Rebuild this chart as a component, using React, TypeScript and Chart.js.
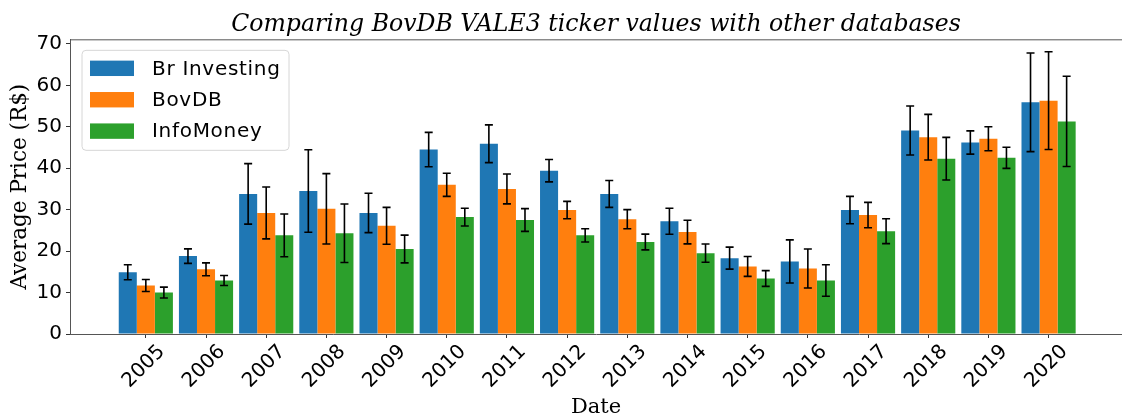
import React, { useEffect, useRef } from 'react';
import { Chart, registerables } from 'chart.js';

Chart.register(...registerables);

// ---- data ----
const years = [2005, 2006, 2007, 2008, 2009, 2010, 2011, 2012, 2013, 2014, 2015, 2016, 2017, 2018, 2019, 2020];
const seriesLabels = ['Br Investing', 'BovDB', 'InfoMoney'];
const brInvesting = [14.9, 18.8, 33.8, 34.5, 29.2, 44.5, 45.9, 39.4, 33.8, 27.2, 18.3, 17.5, 29.9, 49.1, 46.2, 55.9];
const brInvestingErr = [1.8, 1.75, 7.3, 9.95, 4.75, 4.15, 4.55, 2.7, 3.25, 3.15, 2.65, 5.2, 3.3, 5.9, 2.8, 11.9];
const bovDB = [11.7, 15.6, 29.2, 30.2, 26.1, 36.0, 35.0, 29.9, 27.7, 24.6, 16.3, 15.8, 28.7, 47.5, 47.1, 56.3];
const bovDBErr = [1.45, 1.55, 6.25, 8.5, 4.45, 2.8, 3.6, 2.1, 2.3, 2.85, 2.4, 4.7, 3.05, 5.5, 2.9, 11.8];
const infoMoney = [10.0, 12.9, 23.8, 24.3, 20.5, 28.2, 27.5, 23.8, 22.2, 19.5, 13.4, 12.9, 24.8, 42.3, 42.5, 51.3];
const infoMoneyErr = [1.3, 1.2, 5.15, 7.05, 3.35, 2.15, 2.75, 1.6, 1.9, 2.2, 1.9, 3.8, 3.0, 5.15, 2.55, 10.9];
const yTicks = [0, 10, 20, 30, 40, 50, 60, 70];

const titleText = 'Comparing BovDB VALE3 ticker values with other databases';
const yTitle = 'Average Price (R$)';
const xTitle = 'Date';

const colors = ['#1f77b4', '#ff7f0e', '#2ca02c'];

const errorBarPlugin = {
  id: 'errorBars',
  afterDatasetsDraw(chart: any) {
    const ctx = chart.ctx;
    const yScale = chart.scales.y;
    ctx.save();
    ctx.strokeStyle = '#000';
    ctx.lineWidth = 1.6;
    chart.data.datasets.forEach((ds: any, di: number) => {
      const meta = chart.getDatasetMeta(di);
      meta.data.forEach((bar: any, i: number) => {
        const v = ds.data[i].y;
        const e = ds.errors[i];
        const top = yScale.getPixelForValue(v + e);
        const bot = yScale.getPixelForValue(v - e);
        const x = bar.x;
        const cap = 4;
        ctx.beginPath();
        ctx.moveTo(x, top);
        ctx.lineTo(x, bot);
        ctx.moveTo(x - cap, top);
        ctx.lineTo(x + cap, top);
        ctx.moveTo(x - cap, bot);
        ctx.lineTo(x + cap, bot);
        ctx.stroke();
      });
    });
    ctx.restore();
  },
};

const framePlugin = {
  id: 'frameAndLegend',
  afterDraw(chart: any) {
    const ctx = chart.ctx;
    const a = chart.chartArea;
    ctx.save();
    // top spine
    ctx.strokeStyle = '#555';
    ctx.lineWidth = 1;
    ctx.beginPath();
    ctx.moveTo(a.left, a.top + 0.5);
    ctx.lineTo(a.right, a.top + 0.5);
    ctx.stroke();

    // legend
    const bx = a.left + 12;
    const by = a.top + 11;
    const bw = 207;
    const bh = 100;
    const r = 4;
    ctx.beginPath();
    ctx.moveTo(bx + r, by);
    ctx.lineTo(bx + bw - r, by);
    ctx.quadraticCurveTo(bx + bw, by, bx + bw, by + r);
    ctx.lineTo(bx + bw, by + bh - r);
    ctx.quadraticCurveTo(bx + bw, by + bh, bx + bw - r, by + bh);
    ctx.lineTo(bx + r, by + bh);
    ctx.quadraticCurveTo(bx, by + bh, bx, by + bh - r);
    ctx.lineTo(bx, by + r);
    ctx.quadraticCurveTo(bx, by, bx + r, by);
    ctx.closePath();
    ctx.fillStyle = 'rgba(255,255,255,0.8)';
    ctx.fill();
    ctx.strokeStyle = '#d6d6d6';
    ctx.stroke();

    ctx.font = '20px "DejaVu Sans"';
    (ctx as any).letterSpacing = '0.7px';
    ctx.textBaseline = 'middle';
    ctx.textAlign = 'left';
    chart.data.datasets.forEach((ds: any, i: number) => {
      const cy = by + 18 + i * 31.4;
      ctx.fillStyle = ds.backgroundColor;
      ctx.fillRect(bx + 8, cy - 7.7, 44, 15.4);
      ctx.fillStyle = '#000';
      ctx.fillText(ds.label, bx + 70, cy + 1);
    });
    (ctx as any).letterSpacing = '0px';
    ctx.restore();
  },
};

export default function App() {
  const ref = useRef<HTMLCanvasElement | null>(null);
  useEffect(() => {
    if (!ref.current) return;
    const values = [brInvesting, bovDB, infoMoney];
    const errs = [brInvestingErr, bovDBErr, infoMoneyErr];
    const chart = new Chart(ref.current, {
      type: 'bar',
      data: {
        datasets: seriesLabels.map((label, k) => ({
          label,
          data: years.map((yr, i) => ({ x: yr, y: values[k][i] })),
          errors: errs[k],
          backgroundColor: colors[k],
          borderWidth: 0,
          categoryPercentage: 0.9,
          barPercentage: 1.0,
        })) as any,
      },
      options: {
        animation: false,
        responsive: false,
        devicePixelRatio: 1,
        layout: { padding: { left: 0, right: 0, top: 0, bottom: 0 } },
        plugins: {
          legend: { display: false },
          tooltip: { enabled: false },
          title: {
            display: true,
            text: titleText,
            fullSize: false,
            color: '#000',
            font: { family: 'DejaVu Serif', style: 'italic', size: 23.6, weight: 'normal', lineHeight: 1.2 },
            padding: { top: 11, bottom: 0 },
          },
        },
        scales: {
          x: {
            type: 'linear',
            min: 2003.74,
            max: 2021.22,
            offset: false,
            afterBuildTicks: (s: any) => {
              s.ticks = years.map((v) => ({ value: v }));
            },
            afterFit: (s: any) => {
              s.height = 84;
            },
            ticks: {
              includeBounds: false,
              autoSkip: false,
              minRotation: 45,
              maxRotation: 45,
              labelOffset: 16,
              padding: 2,
              color: '#000',
              font: { family: 'DejaVu Sans', size: 20 },
              callback: (v: any) => String(v),
            },
            grid: {
              display: true,
              drawOnChartArea: false,
              drawTicks: true,
              tickLength: 4,
              tickColor: '#333',
              offset: false,
            },
            border: { display: true, color: '#555', width: 1 },
            title: {
              display: true,
              text: xTitle,
              color: '#000',
              font: { family: 'DejaVu Serif', size: 21, lineHeight: 1 },
              padding: { top: 0, bottom: 0 },
            },
          },
          y: {
            type: 'linear',
            min: 0,
            max: 71.1,
            afterBuildTicks: (s: any) => {
              s.ticks = yTicks.map((v) => ({ value: v }));
            },
            afterFit: (s: any) => {
              s.width = 70;
            },
            ticks: {
              includeBounds: false,
              color: '#000',
              padding: 4,
              font: { family: 'DejaVu Sans', size: 20 },
              callback: (v: any) => String(v),
            },
            grid: {
              display: true,
              drawOnChartArea: false,
              drawTicks: true,
              tickLength: 4,
              tickColor: '#333',
            },
            border: { display: true, color: '#555', width: 1 },
            title: {
              display: true,
              text: yTitle,
              color: '#000',
              font: { family: 'DejaVu Serif', size: 21.5, lineHeight: 1 },
              padding: { top: 10, bottom: 0 },
            },
          },
        },
      } as any,
      plugins: [errorBarPlugin, framePlugin],
    });
    return () => chart.destroy();
  }, []);

  return (
    <div style={{ position: 'fixed', left: 0, top: 0, width: 1122, height: 418, background: '#fff' }}>
      <canvas ref={ref} width={1122} height={418} style={{ display: 'block' }} />
    </div>
  );
}
